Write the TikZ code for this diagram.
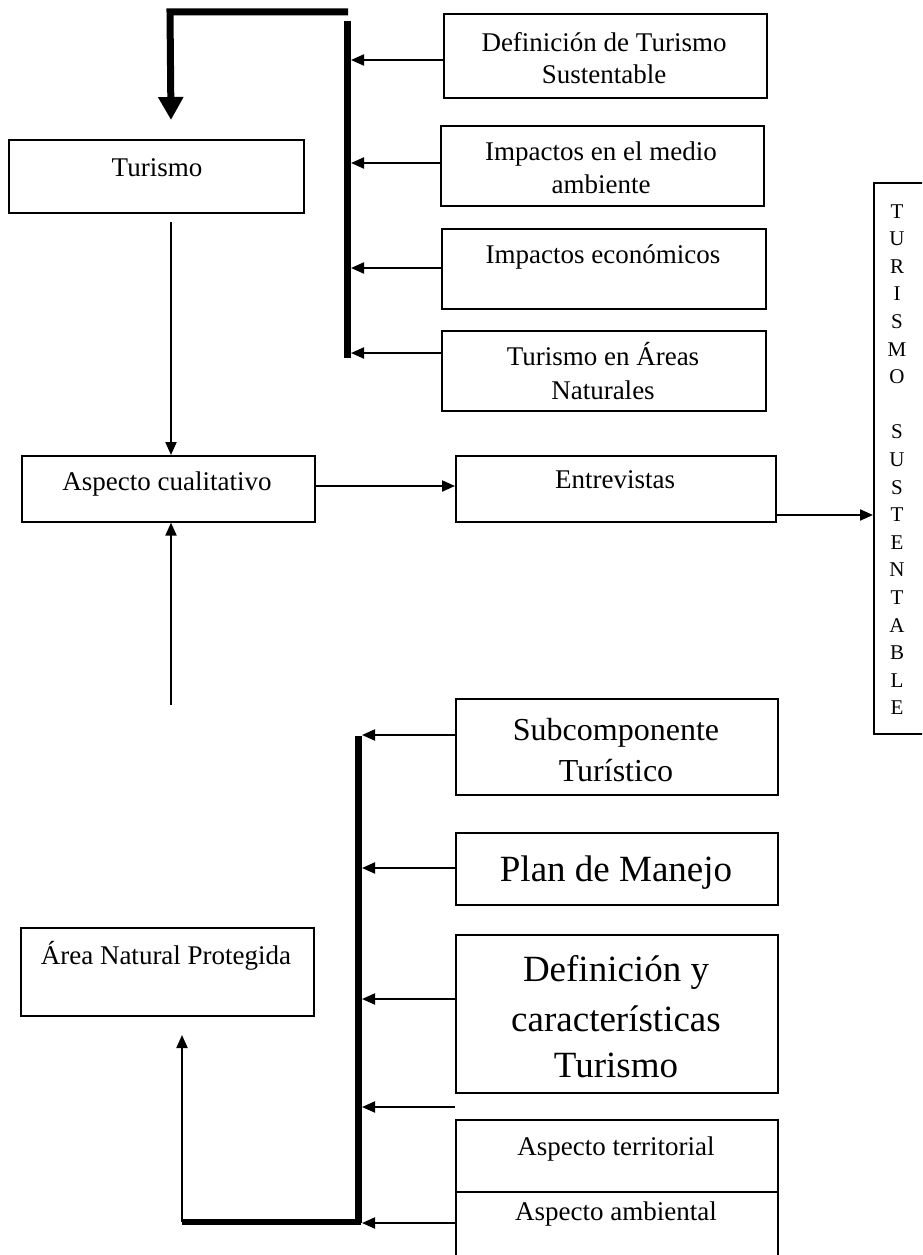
\documentclass[tikz,border=0pt]{standalone}
\usepackage{fontspec}
\setmainfont{Liberation Serif}
\usetikzlibrary{arrows.meta}
\tikzset{
  box/.style={draw, line width=1.6pt, rectangle, inner sep=0pt, anchor=north west},
  txt/.style={inner sep=0pt, anchor=base, font=\fontsize{27}{31}\selectfont},
  txtm/.style={inner sep=0pt, anchor=base, font=\fontsize{32}{36}\selectfont},
  txtl/.style={inner sep=0pt, anchor=base, font=\fontsize{37}{42}\selectfont},
  vl/.style={inner sep=0pt, anchor=base, font=\fontsize{21}{23}\selectfont},
  arr/.style={line width=2pt, -{Triangle[length=13pt,width=11pt]}},
  thick bar/.style={line width=7pt},
  bigarr/.style={line width=7pt, -{Triangle[length=23pt,width=24pt]}}
}
\begin{document}
\begin{tikzpicture}[x=1pt,y=-1pt]
\useasboundingbox[fill=white] (0,0) rectangle (922,1255);
\clip (0,0) rectangle (922,1255);
% top-right boxes
\node[box, minimum width=323pt, minimum height=84pt] (def) at (443,13) {};
\node[txt] (deft1) at (604,52) {Definición de Turismo};
\node[txt] (deft2) at (604,83) {Sustentable};
\node[box, minimum width=323pt, minimum height=80pt] (imp1) at (440,125) {};
\node[txt] (imp1t1) at (601,160) {Impactos en el medio};
\node[txt] (imp1t2) at (601,193) {ambiente};
\node[box, minimum width=324pt, minimum height=80pt] (imp2) at (441,228) {};
\node[txt] (imp2t) at (603,263) {Impactos económicos};
\node[box, minimum width=324pt, minimum height=80pt] (tur) at (441,330) {};
\node[txt] (turt1) at (603,365) {Turismo en Áreas};
\node[txt] (turt2) at (603,399) {Naturales};
% left boxes
\node[box, minimum width=295pt, minimum height=73pt] (turismo) at (8,139) {};
\node[txt] (turismot) at (157,176) {Turismo};
\node[box, minimum width=293pt, minimum height=66pt] (asp) at (21,455) {};
\node[txt] (aspt) at (167,490) {Aspecto cualitativo};
\node[box, minimum width=320pt, minimum height=66pt] (ent) at (455,455) {};
\node[txt] (entt) at (615,488) {Entrevistas};
\node[box, minimum width=293pt, minimum height=88pt] (anp) at (20,927) {};
\node[txt] (anpt) at (166,964) {Área Natural Protegida};
% vertical box
\node[box, minimum width=60pt, minimum height=551pt] (ts) at (873,182) {};
\foreach \l [count=\i] in {T,U,R,I,S,M,O,{},S,U,S,T,E,N,T,A,B,L,E}
  \node[vl] (ts\i) at (897,{218+(\i-1)*27.6}) {\l};
% bottom-right boxes
\node[box, minimum width=322pt, minimum height=96pt] (sub) at (455,698) {};
\node[txtm] (subt1) at (616,740) {Subcomponente};
\node[txtm] (subt2) at (616,781) {Turístico};
\node[box, minimum width=322pt, minimum height=72pt] (plan) at (455,832) {};
\node[txtl] (plant) at (616,881) {Plan de Manejo};
\node[box, minimum width=322pt, minimum height=158pt] (defy) at (455,934) {};
\node[txtl] (defyt1) at (616,981) {Definición y};
\node[txtl] (defyt2) at (616,1031) {características};
\node[txtl] (defyt3) at (616,1077) {Turismo};
\node[box, minimum width=322pt, minimum height=72pt] (ater) at (455,1119) {};
\node[txt] (atert) at (616,1155) {Aspecto territorial};
\node[box, minimum width=322pt, minimum height=80pt] (aamb) at (455,1191) {};
\node[txt] (aambt) at (616,1220) {Aspecto ambiental};
% bars
\coordinate (b1top) at (347,21);
\coordinate (b1bot) at (347,358);
\draw[thick bar] (b1top) -- (b1bot);
\coordinate (topL) at (170,12);
\coordinate (topR) at (348,12);
\coordinate (topTip) at (171,120);
\draw[bigarr] (topR) -- (topL) -- (topTip);
\coordinate (b2top) at (358,736);
\coordinate (b2bot) at (358,1223);
\draw[thick bar] (b2top) -- (b2bot);
\coordinate (botL) at (182,1222);
\draw[line width=6pt] (361,1222) -- (botL);
% arrows to bar 1
\foreach \n/\y in {def/60, imp1/163, imp2/268, tur/353}
  \draw[arr] (\n.west |- 0,\y) -- (351,\y);
% arrows to bar 2
\foreach \n/\y in {sub/735, plan/868, defy/999, aamb/1223}
  \draw[arr] (\n.west |- 0,\y) -- (362,\y);
\coordinate (free) at (455,1107);
\draw[arr] (free) -- (362,1107);
% main flow
\coordinate (turdown) at (171,222);
\draw[arr] (turdown) -- (asp.north -| turdown);
\draw[arr] (asp.east |- 0,486) -- (ent.west |- 0,486);
\draw[arr] (ent.east |- 0,515) -- (ts.west |- 0,515);
\coordinate (anpup) at (171,705);
\draw[arr] (anpup) -- (asp.south -| anpup);
\coordinate (botArr) at (182,1035);
\draw[arr] (botL) -- (botArr);
\end{tikzpicture}
\end{document}
